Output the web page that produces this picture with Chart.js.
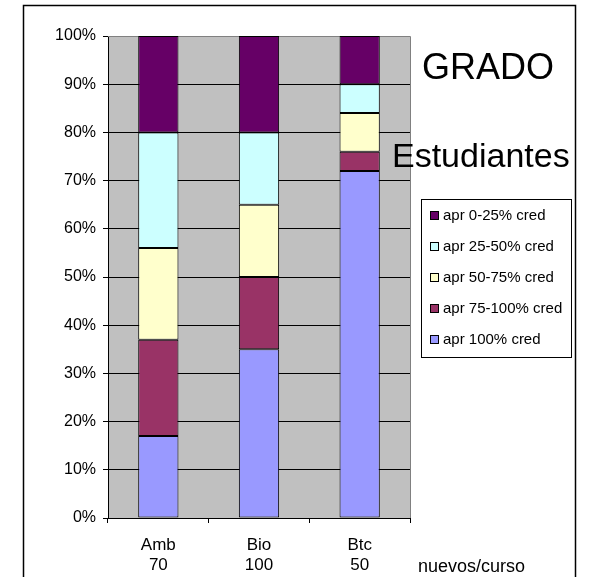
<!DOCTYPE html>
<html>
<head>
<meta charset="utf-8">
<script src="https://cdn.jsdelivr.net/npm/chart.js@4"></script>
<style>
html,body{margin:0;padding:0;background:#fff;}
#wrap{position:relative;width:597px;height:577px;}
canvas{display:block;}
</style>
</head>
<body>
<div id="wrap"><canvas id="c" width="597" height="577"></canvas></div>
<script>
const categories = ['Amb', 'Bio', 'Btc'];
const nuevosCurso = ['70', '100', '50'];
const axisNote = 'nuevos/curso';
const titleLines = ['GRADO', 'Estudiantes'];
const yTicks = [0, 10, 20, 30, 40, 50, 60, 70, 80, 90, 100];

const seriesLabels = ['apr 100% cred', 'apr 75-100% cred', 'apr 50-75% cred', 'apr 25-50% cred', 'apr 0-25% cred'];
const apr100 = [17, 35, 72];
const apr75_100 = [20, 15, 4];
const apr50_75 = [19, 15, 8];
const apr25_50 = [24, 15, 6];
const apr0_25 = [20, 20, 10];
const seriesColors = ['#9999FF', '#993366', '#FFFFCC', '#CCFFFF', '#660066'];

const seriesValues = [apr100, apr75_100, apr50_75, apr25_50, apr0_25];
const FONT = '"Liberation Sans", Arial, sans-serif';

const decor = {
  id: 'decor',
  beforeDraw(chart) {
    const {ctx, chartArea: a} = chart;
    ctx.save();
    ctx.fillStyle = '#fff';
    ctx.fillRect(0, 0, chart.width, chart.height);
    ctx.fillStyle = '#C0C0C0';
    ctx.fillRect(a.left, a.top, a.right - a.left, a.bottom - a.top);
    ctx.restore();
  },
  beforeDatasetsDraw(chart) {
    const {ctx, chartArea: a} = chart;
    ctx.save();
    ctx.strokeStyle = '#808080';
    ctx.lineWidth = 1;
    ctx.beginPath();
    ctx.moveTo(a.left, a.top + 0.5);
    ctx.lineTo(a.right + 0.5, a.top + 0.5);
    ctx.lineTo(a.right + 0.5, a.bottom);
    ctx.stroke();
    ctx.restore();
  },
  afterDraw(chart) {
    const {ctx} = chart;
    ctx.save();
    // outer frame
    ctx.strokeStyle = '#000';
    ctx.lineWidth = 1.5;
    ctx.beginPath();
    ctx.moveTo(23.5, 580);
    ctx.lineTo(23.5, 5.5);
    ctx.lineTo(575.5, 5.5);
    ctx.lineTo(575.5, 580);
    ctx.stroke();
    // titles
    ctx.fillStyle = '#000';
    ctx.textBaseline = 'alphabetic';
    ctx.textAlign = 'left';
    ctx.font = '36px ' + FONT;
    ctx.fillText(titleLines[0], 422, 79);
    ctx.font = '34px ' + FONT;
    ctx.fillText(titleLines[1], 392, 167);
    // axis note
    ctx.font = '18px ' + FONT;
    ctx.fillText(axisNote, 418, 572);
    // legend
    ctx.fillStyle = '#fff';
    ctx.fillRect(421, 199, 150, 158);
    ctx.strokeStyle = '#000';
    ctx.lineWidth = 1;
    ctx.strokeRect(421.5, 199.5, 150, 158);
    const ds = chart.data.datasets;
    ctx.font = '15px ' + FONT;
    ctx.textBaseline = 'middle';
    for (let i = 0; i < ds.length; i++) {
      const d = ds[ds.length - 1 - i];
      const y = 215 + i * 31;
      ctx.fillStyle = d.backgroundColor;
      ctx.fillRect(430.5, y - 3.5, 8, 8);
      ctx.strokeStyle = '#000';
      ctx.strokeRect(430.5, y - 3.5, 8, 8);
      ctx.fillStyle = '#000';
      ctx.fillText(d.label, 443, y + 1);
    }
    ctx.restore();
  }
};

new Chart(document.getElementById('c'), {
  type: 'bar',
  data: {
    labels: categories.map((c, i) => [c, nuevosCurso[i]]),
    datasets: seriesLabels.map((lab, i) => ({
      label: lab,
      data: seriesValues[i],
      backgroundColor: seriesColors[i],
      borderColor: '#000',
      borderWidth: 1,
      borderSkipped: false,
      categoryPercentage: 1,
      barPercentage: 0.4
    }))
  },
  options: {
    responsive: false,
    animation: false,
    devicePixelRatio: 1,
    layout: {padding: {top: 36, right: 187, bottom: 0, left: 0}},
    plugins: {legend: {display: false}, tooltip: {enabled: false}, title: {display: false}},
    scales: {
      x: {
        stacked: true,
        afterFit(s) { s.height = 59; },
        grid: {offset: true, drawOnChartArea: false, color: '#000', tickLength: 5, lineWidth: 1},
        border: {color: '#000', width: 1},
        ticks: {color: '#000', font: {family: FONT, size: 17, lineHeight: 1.18}, padding: 12, maxRotation: 0}
      },
      y: {
        stacked: true,
        min: 0, max: 100,
        afterFit(s) { s.width = 108; },
        afterBuildTicks(s) { s.ticks = yTicks.map(v => ({value: v})); },
        grid: {
          color: ctx => (ctx.tick && ctx.tick.value === 100) ? '#808080' : '#000',
          tickColor: '#000',
          tickLength: 5,
          lineWidth: 1
        },
        border: {color: '#000', width: 1},
        ticks: {color: '#000', font: {family: FONT, size: 16}, padding: 7, callback: v => v + '%'}
      }
    }
  },
  plugins: [decor]
});
</script>
</body>
</html>
